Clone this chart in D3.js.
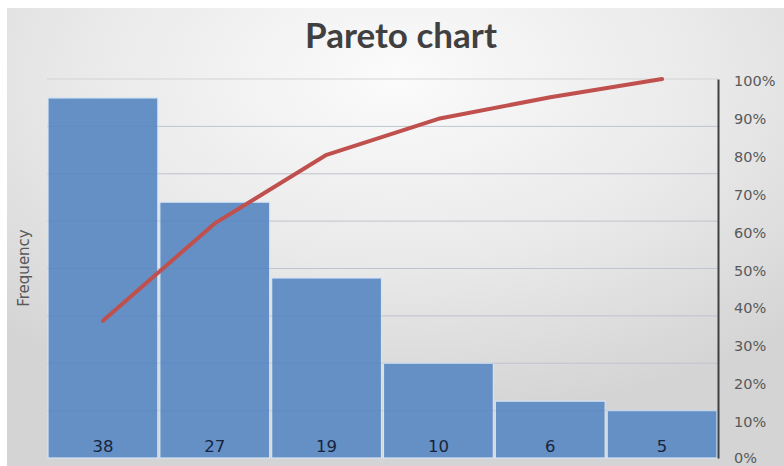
<!DOCTYPE html>
<html><head><meta charset="utf-8">
<script src="https://cdn.jsdelivr.net/npm/d3@7"></script>
<style>html,body{margin:0;padding:0;background:#fff;}svg{display:block;}</style>
</head><body>
<script>
const categories = ["38","27","19","10","6","5"];
const frequency = [38, 27, 19, 10, 6, 5];
const cumulativePct = [36.2, 61.9, 80.0, 89.5, 95.2, 100.0];
const pctTicks = [0,10,20,30,40,50,60,70,80,90,100];
const freqGrid = [5,10,15,20,25,30,35,40];

(function(){
const W = 784, H = 466;
const svg = d3.select("body").append("svg").attr("width", W).attr("height", H);
const defs = svg.append("defs");
const g = defs.append("radialGradient").attr("id","bg").attr("cx","50%").attr("cy","15%").attr("r","75%");
g.append("stop").attr("offset","0%").attr("stop-color","#fbfbfb");
g.append("stop").attr("offset","55%").attr("stop-color","#e9e9e9");
g.append("stop").attr("offset","100%").attr("stop-color","#d4d4d4");
svg.append("rect").attr("x",7).attr("y",8).attr("width",W-7).attr("height",H-8).attr("fill","url(#bg)");

const pLeft = 47, pRight = 718, pTop = 79, pBottom = 458;
const x = d3.scaleBand().domain(categories).range([pLeft, pRight]).padding(0);
const y = d3.scaleLinear().domain([0, 40]).range([pBottom, pTop]);
const yp = d3.scaleLinear().domain([0, 100]).range([pBottom, pTop]);

// gridlines
svg.append("g").selectAll("line").data(freqGrid).join("line")
  .attr("x1", pLeft).attr("x2", pRight)
  .attr("y1", d => y(d)).attr("y2", d => y(d))
  .attr("stroke", "#d3d3d3").attr("stroke-width", 1);

// bars
svg.append("g").selectAll("rect").data(frequency).join("rect")
  .attr("x", (d,i) => x(categories[i]) + 1)
  .attr("width", x.bandwidth() - 2)
  .attr("y", d => y(d))
  .attr("height", d => pBottom - y(d))
  .attr("fill", "#6490c6")
  .attr("stroke", "#d6e4f5").attr("stroke-width", 1.2);

// gridlines over bars (faint)
svg.append("g").selectAll("line").data(freqGrid.filter(v => v < 38)).join("line")
  .attr("x1", pLeft).attr("x2", pRight)
  .attr("y1", d => y(d)).attr("y2", d => y(d))
  .attr("stroke", "#4f78ad").attr("stroke-opacity", 0.15).attr("stroke-width", 1);

// category labels
svg.append("g").selectAll("text").data(categories).join("text")
  .attr("x", d => x(d) + x.bandwidth()/2)
  .attr("y", 452)
  .attr("text-anchor", "middle")
  .attr("font-family", "DejaVu Sans, sans-serif")
  .attr("font-size", 16.5)
  .attr("fill", "#18243e")
  .text(d => d);

// cumulative line
const line = d3.line()
  .x((d,i) => x(categories[i]) + x.bandwidth()/2)
  .y(d => yp(d));
svg.append("path").datum(cumulativePct)
  .attr("d", line).attr("fill","none")
  .attr("stroke","#c0504d").attr("stroke-width",4).attr("stroke-linecap","round").attr("stroke-linejoin","round");

// right axis
const ra = svg.append("g").attr("transform", `translate(${pRight},0)`)
  .call(d3.axisRight(yp).tickValues(pctTicks).tickSize(0).tickPadding(16).tickFormat(d => d + "%"));
ra.select(".domain").attr("stroke","#404040").attr("stroke-width",2);
ra.selectAll("text").attr("font-family","DejaVu Sans, sans-serif").attr("font-size",14.5)
  .attr("fill","#595959").attr("dy", d => d === 0 ? "0.28em" : "0.45em");

// title
svg.append("text").attr("x", 401).attr("y", 48).attr("text-anchor","middle")
  .attr("font-family","Lato, sans-serif").attr("font-weight","bold").attr("font-size",35)
  .attr("fill","#404040").text("Pareto chart");

// y label
svg.append("text").attr("transform","translate(29,268) rotate(-90)")
  .attr("text-anchor","middle")
  .attr("font-family","DejaVu Sans, sans-serif").attr("font-size",15)
  .attr("fill","#595959").text("Frequency");
})();
</script>
</body></html>
